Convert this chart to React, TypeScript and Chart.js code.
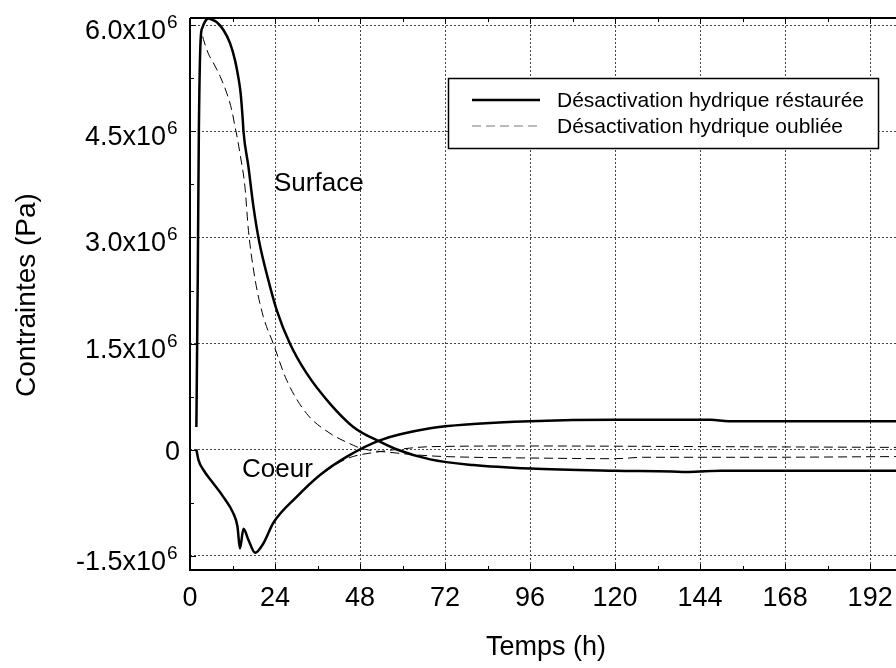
import React, { useEffect, useRef } from "react";
import { Chart, registerables } from "chart.js";

Chart.register(...registerables);

// ---- data (time in h, stress in Pa) ----
const surfRestT = [1.8, 2.2, 2.5, 3.0, 3.5, 4.3, 5.2, 6.3, 7.5, 9.4, 11.3, 12.7, 13.6, 14.3, 14.9, 15.1, 16.5, 17.9, 19.5, 22.1, 24.5, 28.2, 32.9, 39.5, 46.1, 53.6, 58.4, 67.8, 80, 96, 120, 136, 140, 144, 150, 170, 199.3];
const surfRestV = [0.32e6, 2.5e6, 4.5e6, 5.8e6, 5.97e6, 6.06e6, 6.1e6, 6.08e6, 6.05e6, 5.94e6, 5.75e6, 5.51e6, 5.28e6, 5.04e6, 4.66e6, 4.5e6, 4.0e6, 3.44e6, 2.95e6, 2.4e6, 1.97e6, 1.5e6, 1.08e6, 0.65e6, 0.32e6, 0.11e6, 0.0, -0.14e6, -0.22e6, -0.27e6, -0.30e6, -0.31e6, -0.32e6, -0.31e6, -0.30e6, -0.30e6, -0.30e6];

const coeurRestT = [1.8, 2.4, 3.8, 6.6, 9.4, 12.2, 13.4, 14.1, 15.1, 16.5, 18.4, 20.7, 23.5, 30.1, 36.7, 44.3, 53.6, 67.8, 80, 96, 120, 147, 152, 170, 199.3];
const coeurRestV = [0.0, -0.15e6, -0.29e6, -0.48e6, -0.67e6, -0.90e6, -1.09e6, -1.40e6, -1.12e6, -1.28e6, -1.46e6, -1.33e6, -1.04e6, -0.67e6, -0.36e6, -0.10e6, 0.13e6, 0.30e6, 0.36e6, 0.40e6, 0.42e6, 0.42e6, 0.40e6, 0.40e6, 0.40e6];

const surfForgT = [1.8, 2.2, 2.5, 3.0, 3.5, 3.8, 5.2, 6.6, 8.5, 10.4, 11.8, 12.7, 13.2, 14.1, 15.5, 16.5, 18.4, 20.7, 23.5, 27.3, 32.9, 39.5, 46.1, 48, 58.4, 67.8, 80, 96, 120, 128, 160, 199.3];
const surfForgV = [0.32e6, 2.5e6, 4.5e6, 5.75e6, 5.85e6, 5.8e6, 5.6e6, 5.47e6, 5.28e6, 5.04e6, 4.8e6, 4.57e6, 4.45e6, 4.19e6, 3.72e6, 3.1e6, 2.4e6, 1.88e6, 1.5e6, 0.98e6, 0.51e6, 0.23e6, 0.06e6, 0.02e6, -0.05e6, -0.09e6, -0.11e6, -0.12e6, -0.13e6, -0.11e6, -0.11e6, -0.10e6];

const coeurForgT = [1.8, 2.4, 3.8, 6.6, 9.4, 12.2, 13.4, 14.1, 15.1, 16.5, 18.4, 20.7, 23.5, 30.1, 36.7, 44.3, 53.6, 58.4, 67.8, 96, 150, 199.3];
const coeurForgV = [0.0, -0.15e6, -0.29e6, -0.48e6, -0.67e6, -0.90e6, -1.09e6, -1.40e6, -1.12e6, -1.28e6, -1.46e6, -1.33e6, -1.04e6, -0.67e6, -0.37e6, -0.13e6, -0.03e6, 0.0, 0.04e6, 0.05e6, 0.04e6, 0.03e6];

const xTicks = [0, 24, 48, 72, 96, 120, 144, 168, 192];
const xMinorTicks = [12, 36, 60, 84, 108, 132, 156, 180];
const yTicks = [-1.5e6, 0, 1.5e6, 3.0e6, 4.5e6, 6.0e6];
const yTickMant = ["-1.5x10", "0", "1.5x10", "3.0x10", "4.5x10", "6.0x10"];
const yTickExp = ["6", "", "6", "6", "6", "6"];
const yMinorTicks = [-0.75e6, 0.75e6, 2.25e6, 3.75e6, 5.25e6];

const legendLabels = ["Désactivation hydrique réstaurée", "Désactivation hydrique oubliée"];
const xTitle = "Temps (h)";
const yTitle = "Contraintes (Pa)";

const FONT = "'Liberation Sans', Arial, sans-serif";

const toPts = (t: number[], v: number[]) => t.map((x, i) => ({ x, y: v[i] }));

const decoPlugin = {
  id: "deco",
  afterDatasetsDraw(chart: any) {
    const { ctx, chartArea, scales } = chart;
    const xs = scales.x;
    const ys = scales.y;
    const L = chartArea.left, T = chartArea.top, B = chartArea.bottom, R = chart.width;
    ctx.save();
    // frame
    ctx.strokeStyle = "#000";
    ctx.lineWidth = 2;
    ctx.setLineDash([]);
    ctx.beginPath();
    ctx.moveTo(L, T);
    ctx.lineTo(R, T);
    ctx.moveTo(L, T);
    ctx.lineTo(L, B);
    ctx.lineTo(R, B);
    ctx.stroke();
    // ticks
    ctx.lineWidth = 1;
    ctx.beginPath();
    const drawX = (v: number, len: number) => {
      const p = Math.round(xs.getPixelForValue(v)) + 0.5;
      ctx.moveTo(p, B);
      ctx.lineTo(p, B - len);
      ctx.moveTo(p, T);
      ctx.lineTo(p, T + len);
    };
    xTicks.forEach((v) => drawX(v, 6));
    xMinorTicks.forEach((v) => drawX(v, 4));
    const drawY = (v: number, len: number) => {
      const p = Math.round(ys.getPixelForValue(v)) + 0.5;
      ctx.moveTo(L, p);
      ctx.lineTo(L + len, p);
    };
    yTicks.forEach((v) => drawY(v, 6));
    yMinorTicks.forEach((v) => drawY(v, 4));
    ctx.stroke();

    // tick labels
    ctx.fillStyle = "#000";
    ctx.font = `27px ${FONT}`;
    ctx.textAlign = "center";
    ctx.textBaseline = "alphabetic";
    xTicks.forEach((v) => {
      ctx.fillText(String(v), xs.getPixelForValue(v), 606);
    });
    yTicks.forEach((v, i) => {
      const p = ys.getPixelForValue(v);
      if (yTickExp[i]) {
        ctx.font = `27px ${FONT}`;
        ctx.textAlign = "right";
        ctx.fillText(yTickMant[i], 166, p + 14);
        ctx.font = `19px ${FONT}`;
        ctx.textAlign = "left";
        ctx.fillText(yTickExp[i], 167, p + 3);
      } else {
        ctx.font = `27px ${FONT}`;
        ctx.textAlign = "right";
        ctx.fillText(yTickMant[i], 180, p + 10);
      }
    });

    // axis titles
    ctx.font = `27px ${FONT}`;
    ctx.textAlign = "center";
    ctx.fillText(xTitle, 546, 655);
    ctx.save();
    ctx.translate(35, 295);
    ctx.rotate(-Math.PI / 2);
    ctx.font = `28px ${FONT}`;
    ctx.fillText(yTitle, 0, 0);
    ctx.restore();

    // annotations
    ctx.font = `26px ${FONT}`;
    ctx.textAlign = "left";
    ctx.fillText("Surface", 274, 191);
    ctx.fillText("Coeur", 242, 477);

    // legend
    ctx.fillStyle = "#fff";
    ctx.fillRect(448, 78, 430, 70);
    ctx.strokeStyle = "#000";
    ctx.lineWidth = 1.5;
    ctx.strokeRect(448.5, 78.5, 430, 70);
    const ds = chart.data.datasets;
    const rows = [ { y: 100, d: ds[0], color: "#000" }, { y: 126, d: ds[2], color: "#777" } ];
    rows.forEach((r, i) => {
      ctx.beginPath();
      ctx.strokeStyle = r.color;
      ctx.lineWidth = r.d.borderWidth;
      ctx.setLineDash(r.d.borderDash || []);
      ctx.moveTo(472, r.y);
      ctx.lineTo(540, r.y);
      ctx.stroke();
      ctx.setLineDash([]);
      ctx.fillStyle = "#000";
      ctx.font = `21px ${FONT}`;
      ctx.textAlign = "left";
      ctx.fillText(legendLabels[i], 557, r.y + 7);
    });
    ctx.restore();
  },
};

export default function App() {
  const ref = useRef<HTMLCanvasElement | null>(null);
  useEffect(() => {
    if (!ref.current) return;
    const solid = { borderColor: "#000", borderWidth: 2.5, borderDash: [] as number[] };
    const dashed = { borderColor: "#000", borderWidth: 1, borderDash: [9, 5] };
    const chart = new Chart(ref.current, {
      type: "line",
      data: {
        datasets: [
          { label: legendLabels[0], data: toPts(surfRestT, surfRestV), ...solid },
          { label: legendLabels[0] + " coeur", data: toPts(coeurRestT, coeurRestV), ...solid },
          { label: legendLabels[1], data: toPts(surfForgT, surfForgV), ...dashed },
          { label: legendLabels[1] + " coeur", data: toPts(coeurForgT, coeurForgV), ...dashed },
        ],
      },
      options: {
        responsive: false,
        animation: false,
        events: [],
        layout: { padding: { left: 190, top: 18, right: 0, bottom: 98 } },
        elements: {
          point: { radius: 0 },
          line: { cubicInterpolationMode: "monotone", fill: false },
        },
        scales: {
          x: {
            type: "linear",
            min: 0,
            max: 199.3,
            afterBuildTicks: (s: any) => { s.ticks = xTicks.map((v) => ({ value: v })); },
            ticks: { display: false },
            grid: { color: "#444", lineWidth: 1, drawTicks: false },
            border: { display: false, dash: [2, 2] },
          },
          y: {
            type: "linear",
            min: -1.705e6,
            max: 6.106e6,
            afterBuildTicks: (s: any) => { s.ticks = yTicks.map((v) => ({ value: v })); },
            ticks: { display: false },
            grid: { color: "#444", lineWidth: 1, drawTicks: false },
            border: { display: false, dash: [2, 2] },
          },
        },
        plugins: { legend: { display: false }, tooltip: { enabled: false } },
      },
      plugins: [decoPlugin],
    } as any);
    return () => chart.destroy();
  }, []);
  return (
    <div style={{ position: "absolute", left: 0, top: 0, width: 896, height: 668, background: "#fff" }}>
      <canvas ref={ref} width={896} height={668} style={{ display: "block" }} />
    </div>
  );
}
